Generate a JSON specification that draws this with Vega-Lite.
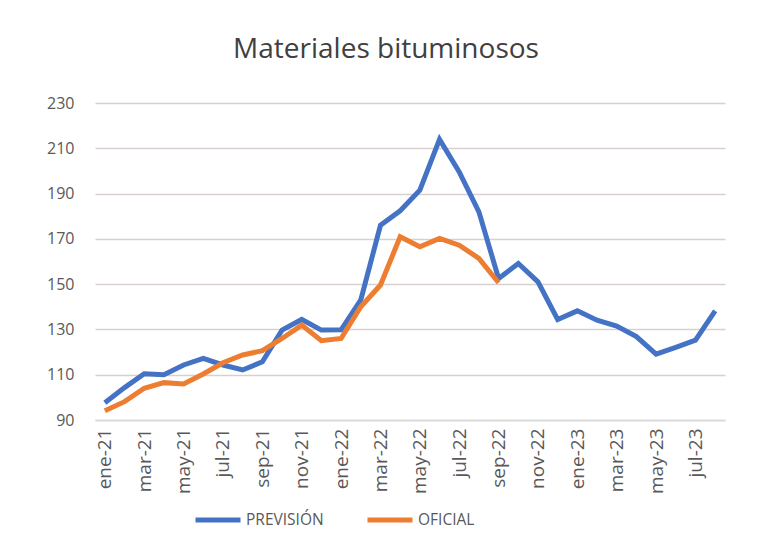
{
  "$schema": "https://vega.github.io/schema/vega-lite/v6.json",
  "autosize": {"type": "none"},
  "width": 630,
  "height": 317,
  "padding": {"left": 95, "top": 103, "right": 40, "bottom": 122},
  "background": "white",
  "title": {"text": "Materiales bituminosos", "font": "Open Sans", "fontSize": 28, "fontWeight": "normal", "color": "#404040", "anchor": "middle", "offset": 31, "dx": -24},
  "config": {"view": {"stroke": null}},
  "data": {"values": [
    {"mes": "ene-21", "serie": "PREVISIÓN", "valor": 97.6},
    {"mes": "feb-21", "serie": "PREVISIÓN", "valor": 104.3},
    {"mes": "mar-21", "serie": "PREVISIÓN", "valor": 110.4},
    {"mes": "abr-21", "serie": "PREVISIÓN", "valor": 110.0},
    {"mes": "may-21", "serie": "PREVISIÓN", "valor": 114.3},
    {"mes": "jun-21", "serie": "PREVISIÓN", "valor": 117.2},
    {"mes": "jul-21", "serie": "PREVISIÓN", "valor": 114.3},
    {"mes": "ago-21", "serie": "PREVISIÓN", "valor": 112.1},
    {"mes": "sep-21", "serie": "PREVISIÓN", "valor": 115.7},
    {"mes": "oct-21", "serie": "PREVISIÓN", "valor": 129.7},
    {"mes": "nov-21", "serie": "PREVISIÓN", "valor": 134.4},
    {"mes": "dic-21", "serie": "PREVISIÓN", "valor": 129.7},
    {"mes": "ene-22", "serie": "PREVISIÓN", "valor": 129.8},
    {"mes": "feb-22", "serie": "PREVISIÓN", "valor": 143.0},
    {"mes": "mar-22", "serie": "PREVISIÓN", "valor": 176.0},
    {"mes": "abr-22", "serie": "PREVISIÓN", "valor": 182.4},
    {"mes": "may-22", "serie": "PREVISIÓN", "valor": 191.5},
    {"mes": "jun-22", "serie": "PREVISIÓN", "valor": 213.9},
    {"mes": "jul-22", "serie": "PREVISIÓN", "valor": 199.6},
    {"mes": "ago-22", "serie": "PREVISIÓN", "valor": 181.9},
    {"mes": "sep-22", "serie": "PREVISIÓN", "valor": 152.5},
    {"mes": "oct-22", "serie": "PREVISIÓN", "valor": 159.1},
    {"mes": "nov-22", "serie": "PREVISIÓN", "valor": 151.0},
    {"mes": "dic-22", "serie": "PREVISIÓN", "valor": 134.4},
    {"mes": "ene-23", "serie": "PREVISIÓN", "valor": 138.2},
    {"mes": "feb-23", "serie": "PREVISIÓN", "valor": 134.1},
    {"mes": "mar-23", "serie": "PREVISIÓN", "valor": 131.5},
    {"mes": "abr-23", "serie": "PREVISIÓN", "valor": 126.8},
    {"mes": "may-23", "serie": "PREVISIÓN", "valor": 119.1},
    {"mes": "jun-23", "serie": "PREVISIÓN", "valor": 122.1},
    {"mes": "jul-23", "serie": "PREVISIÓN", "valor": 125.3},
    {"mes": "ago-23", "serie": "PREVISIÓN", "valor": 138.2},
    {"mes": "ene-21", "serie": "OFICIAL", "valor": 94.1},
    {"mes": "feb-21", "serie": "OFICIAL", "valor": 98.1},
    {"mes": "mar-21", "serie": "OFICIAL", "valor": 104.0},
    {"mes": "abr-21", "serie": "OFICIAL", "valor": 106.5},
    {"mes": "may-21", "serie": "OFICIAL", "valor": 105.9},
    {"mes": "jun-21", "serie": "OFICIAL", "valor": 110.3},
    {"mes": "jul-21", "serie": "OFICIAL", "valor": 115.3},
    {"mes": "ago-21", "serie": "OFICIAL", "valor": 118.7},
    {"mes": "sep-21", "serie": "OFICIAL", "valor": 120.6},
    {"mes": "oct-21", "serie": "OFICIAL", "valor": 126.0},
    {"mes": "nov-21", "serie": "OFICIAL", "valor": 131.9},
    {"mes": "dic-21", "serie": "OFICIAL", "valor": 125.0},
    {"mes": "ene-22", "serie": "OFICIAL", "valor": 126.0},
    {"mes": "feb-22", "serie": "OFICIAL", "valor": 140.0},
    {"mes": "mar-22", "serie": "OFICIAL", "valor": 149.6},
    {"mes": "abr-22", "serie": "OFICIAL", "valor": 170.9},
    {"mes": "may-22", "serie": "OFICIAL", "valor": 166.5},
    {"mes": "jun-22", "serie": "OFICIAL", "valor": 170.2},
    {"mes": "jul-22", "serie": "OFICIAL", "valor": 167.2},
    {"mes": "ago-22", "serie": "OFICIAL", "valor": 161.4},
    {"mes": "sep-22", "serie": "OFICIAL", "valor": 150.6}
  ]},
  "mark": {"type": "line", "strokeWidth": 5, "strokeJoin": "miter", "strokeCap": "butt"},
  "encoding": {
    "x": {
      "field": "mes", "type": "ordinal", "sort": null,
      "scale": {"type": "point", "padding": 0.5},
      "axis": {
        "title": null,
        "values": ["ene-21","mar-21","may-21","jul-21","sep-21","nov-21","ene-22","mar-22","may-22","jul-22","sep-22","nov-22","ene-23","mar-23","may-23","jul-23"],
        "labelAngle": -90, "labelFont": "Open Sans", "labelFontSize": 19, "labelColor": "#595959",
        "labelPadding": 8, "ticks": false,
        "domainColor": "#d9d9d9", "domainWidth": 1.5, "grid": false
      }
    },
    "y": {
      "field": "valor", "type": "quantitative",
      "scale": {"domain": [90, 230], "nice": false, "zero": false},
      "axis": {
        "title": null, "values": [90,110,130,150,170,190,210,230],
        "labelFont": "Open Sans", "labelFontSize": 16, "labelColor": "#595959", "labelPadding": 21,
        "ticks": false, "domain": false,
        "grid": true, "gridColor": "#d9cfcf", "gridWidth": 1.5
      }
    },
    "color": {
      "field": "serie", "type": "nominal",
      "scale": {"domain": ["PREVISIÓN", "OFICIAL"], "range": ["#4472C4", "#ED7D31"]},
      "legend": {
        "title": null, "orient": "none", "direction": "horizontal",
        "legendX": 98, "legendY": 392,
        "symbolType": "stroke", "symbolSize": 2025, "symbolStrokeWidth": 5,
        "labelFont": "Open Sans", "labelFontSize": 15.5, "labelColor": "#595959",
        "labelOffset": 3, "columnPadding": 33
      }
    }
  }
}
